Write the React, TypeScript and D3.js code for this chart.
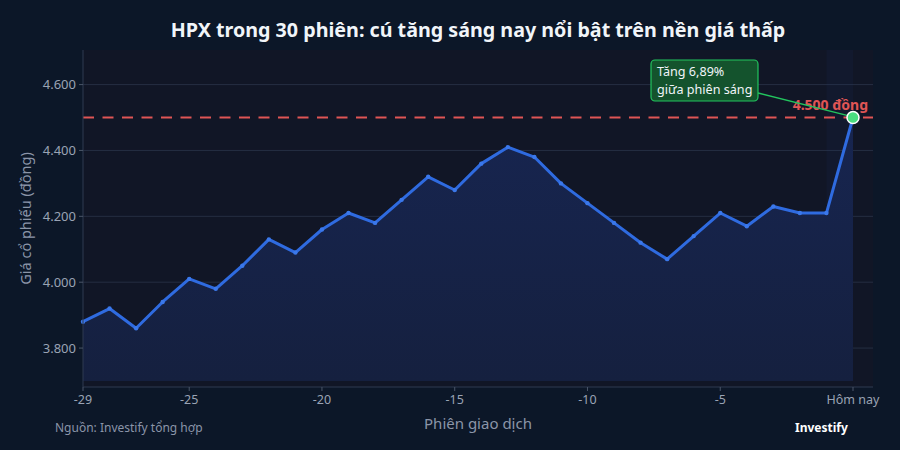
import React from "react";
import * as d3 from "d3";

const sessions: number[] = [-29,-28,-27,-26,-25,-24,-23,-22,-21,-20,-19,-18,-17,-16,-15,-14,-13,-12,-11,-10,-9,-8,-7,-6,-5,-4,-3,-2,-1,0];
const prices: number[] = [3880,3920,3860,3940,4010,3980,4050,4130,4090,4160,4210,4180,4250,4320,4280,4360,4410,4380,4300,4240,4180,4120,4070,4140,4210,4170,4230,4210,4210,4500];
const xTicks: number[] = [-29,-25,-20,-15,-10,-5,0];
const yTicks: number[] = [3800,4000,4200,4400,4600];
const refPrice = 4500;
const title = "HPX trong 30 phiên: cú tăng sáng nay nổi bật trên nền giá thấp";
const annotLines = ["Tăng 6,89%", "giữa phiên sáng"];

const W = 900, H = 450;
const L = 83, R = 873, T = 50, B = 387;
const FONT = "'Noto Sans', 'Open Sans', sans-serif";

const fmtV = (v: number) => d3.format(",")(v).replace(/,/g, ".");

export default function App() {
  const x = d3.scaleLinear().domain([-29, 0]).range([L, 853]);
  const y = d3.scaleLinear().domain([3700, 4705]).range([381, T]);
  const data = sessions.map((s, i) => ({ s, v: prices[i] }));
  const line = d3.line<{ s: number; v: number }>().x(d => x(d.s)).y(d => y(d.v));
  const area = d3.area<{ s: number; v: number }>().x(d => x(d.s)).y0(381).y1(d => y(d.v));
  const last = data[data.length - 1];
  const px = x(last.s), py = y(last.v);
  const boxX = 651, boxY = 60, boxW = 107, boxH = 41;

  return (
    <svg width={W} height={H} style={{ position: "absolute", left: 0, top: 0, display: "block" }} fontFamily={FONT}>
      <defs>
        <linearGradient id="fillG" x1="0" y1="0" x2="0" y2="1">
          <stop offset="0%" stopColor="#172550" />
          <stop offset="100%" stopColor="#15203f" />
        </linearGradient>
      </defs>
      <rect x={0} y={0} width={W} height={H} fill="#0c1728" />
      <rect x={L} y={T} width={R - L} height={B - T} fill="#111626" />
      {yTicks.map(t => (
        <line key={"g" + t} x1={L} x2={R} y1={y(t)} y2={y(t)} stroke="#252e42" strokeWidth={1} />
      ))}
      <rect x={x(-1)} y={T} width={x(0) - x(-1)} height={381 - T} fill="#1d3a7a" opacity={0.1} />
      <path d={area(data) || ""} fill="url(#fillG)" />
      <line x1={L} x2={R} y1={y(refPrice)} y2={y(refPrice)} stroke="#e05555" strokeWidth={1.8} strokeDasharray="11,8.5" />
      <path d={line(data) || ""} fill="none" stroke="#2f6be0" strokeWidth={3} strokeLinejoin="round" />
      {data.slice(0, -1).map(d => (
        <circle key={d.s} cx={x(d.s)} cy={y(d.v)} r={2.2} fill="#3b78ea" />
      ))}
      <line x1={L} x2={L} y1={T} y2={B} stroke="#2f3a50" strokeWidth={1} />
      <line x1={L} x2={R} y1={B} y2={B} stroke="#2f3a50" strokeWidth={1} />
      {yTicks.map(t => (
        <g key={"y" + t}>
          <line x1={L - 4} x2={L} y1={y(t)} y2={y(t)} stroke="#4a5568" />
          <text x={L - 7} y={y(t)} dy="0.35em" textAnchor="end" fontSize={13} fill="#9aa3b4">{fmtV(t)}</text>
        </g>
      ))}
      {xTicks.map(t => (
        <g key={"x" + t}>
          <line x1={x(t)} x2={x(t)} y1={B} y2={B + 4} stroke="#4a5568" />
          <text x={x(t)} y={404} textAnchor="middle" fontSize={12.5} fill="#9aa3b4">{t === 0 ? "Hôm nay" : String(t)}</text>
        </g>
      ))}
      <text x={(L + R) / 2} y={429} textAnchor="middle" fontSize={15} fill="#8b95a8">Phiên giao dịch</text>
      <text transform={`translate(31,${(T + B) / 2}) rotate(-90)`} textAnchor="middle" fontSize={14.5} fill="#8b95a8">Giá cổ phiếu (đồng)</text>
      <text x={(L + R) / 2} y={37} textAnchor="middle" fontSize={19.7} fontWeight={700} fill="#f1f5f9">{title}</text>
      <text x={868} y={py - 8} textAnchor="end" fontSize={14} fontWeight={700} fill="#e05555">{fmtV(refPrice)} đồng</text>
      <line x1={boxX + boxW} x2={px - 5} y1={boxY + 33} y2={py - 2} stroke="#22c55e" strokeWidth={1.3} />
      <rect x={boxX} y={boxY} width={boxW} height={boxH} rx={4} fill="#14532d" stroke="#22c55e" strokeWidth={1.2} />
      {annotLines.map((s, i) => (
        <text key={i} x={boxX + 6} y={boxY + 16 + i * 17.5} fontSize={12.6} fill="#f1f5f9">{s}</text>
      ))}
      <circle cx={px} cy={py} r={6} fill="#4ade80" stroke="#ffffff" strokeWidth={1.5} />
      <text x={55} y={432} fontSize={12} fill="#8b95a8">Nguồn: Investify tổng hợp</text>
      <text x={795} y={432} fontSize={12} fontWeight={700} fill="#ffffff">Investify</text>
    </svg>
  );
}
